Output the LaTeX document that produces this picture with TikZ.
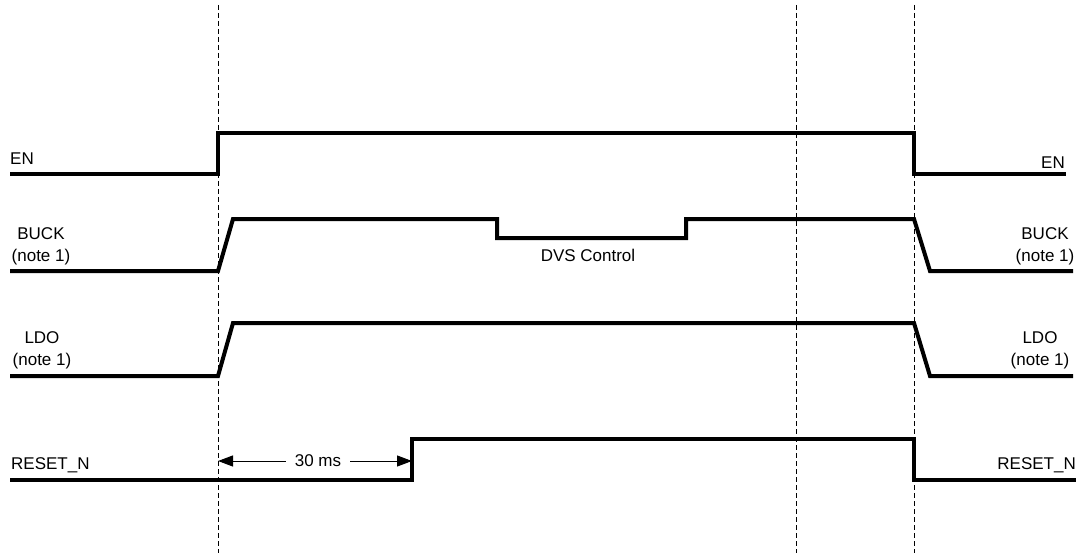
\documentclass[tikz,border=0pt]{standalone}
\usepackage{fontspec}
\setmainfont{Liberation Sans}
\usetikzlibrary{arrows.meta}

\begin{document}
\begin{tikzpicture}[x=1pt,y=-1pt,
    signal/.style={line width=4pt},
    marker/.style={line width=0.9pt, dash pattern=on 5pt off 3pt},
    lbl/.style={inner sep=0pt, font=\fontsize{17}{22}\selectfont, align=center}]
    \useasboundingbox (0,0) rectangle (1081,556);

    % --- Time markers ---
    \coordinate (T1) at (218,0);
    \coordinate (T2) at (796,0);
    \coordinate (T3) at (914,0);
    \foreach \t in {T1,T2,T3}
        \draw[marker] (\t) ++(0,5) -- ++(0,548);

    % --- Signals ---
    \draw[signal] (10,174) -- (218,174) -- (218,133) -- (914,133) -- (914,174) -- (1066,174);      % EN
    \draw[signal] (10,271) -- (218,271) -- (233,219) -- (497,219) -- (497,238) -- (686,238)
        -- (686,219) -- (914,219) -- (930,271) -- (1073,271);                                       % BUCK
    \draw[signal] (10,376) -- (218,376) -- (233,323) -- (914,323) -- (930,376) -- (1073,376);      % LDO
    \draw[signal] (10,480) -- (412,480) -- (412,439) -- (914,439) -- (914,480) -- (1076,480);      % RESET_N

    % --- Signal labels ---
    \node[lbl, anchor=base west] (enL) at (10,165) {EN};
    \node[lbl, anchor=base east] (enR) at (1065,169) {EN};
    \node[lbl] (buckL) at (41,246) {BUCK\\(note 1)};
    \node[lbl] (buckR) at (1045,246) {BUCK\\(note 1)};
    \node[lbl] (ldoL) at (42,350) {LDO\\(note 1)};
    \node[lbl] (ldoR) at (1040,350) {LDO\\(note 1)};
    \node[lbl, anchor=base west] (rstL) at (11,469) {RESET\_N};
    \node[lbl, anchor=base east] (rstR) at (1076,469) {RESET\_N};
    \node[lbl, anchor=base] (dvs) at (588,261) {DVS Control};

    % --- 30 ms delay ---
    \coordinate (dA) at (218,461);
    \coordinate (dB) at (412,461);
    \node[lbl, inner xsep=9pt] (delay) at (318,461) {30 ms};
    \draw[line width=1pt, -{Triangle[length=15pt,width=11pt]}] (delay.west) -- (dA);
    \draw[line width=1pt, -{Triangle[length=15pt,width=11pt]}] (delay.east) -- (dB);

\end{tikzpicture}
\end{document}
